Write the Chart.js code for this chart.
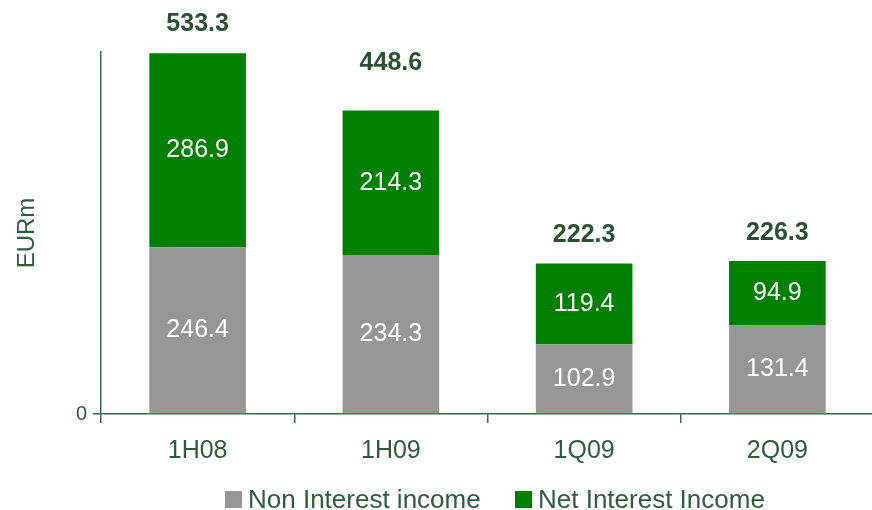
<!DOCTYPE html>
<html>
<head>
<meta charset="utf-8">
<title>Revenues</title>
<script src="https://cdn.jsdelivr.net/npm/chart.js@4.4.1/dist/chart.umd.min.js"></script>
<style>
    html, body { margin: 0; padding: 0; background: #ffffff; overflow: hidden; }
    #wrap { position: relative; width: 872px; height: 510px; overflow: hidden; }
    #revenueChart { position: absolute; left: 0; top: 0; }
    .legend-item {
        position: absolute;
        top: 484px;
        font: 26px 'Liberation Sans', Arial, sans-serif;
        line-height: 30px;
        color: #2e5b3c;
        white-space: nowrap;
    }
    .legend-item .swatch {
        display: inline-block;
        width: 17px;
        height: 17px;
        margin-right: 6px;
        vertical-align: baseline;
    }
</style>
</head>
<body>
<div id="wrap">
    <canvas id="revenueChart" width="874" height="510"></canvas>
    <div id="legend"></div>
</div>
<script>
// Periods and income split (EUR m)
const periods = ['1H08', '1H09', '1Q09', '2Q09'];
const nonInterestIncome = [246.4, 234.3, 102.9, 131.4];
const netInterestIncome = [286.9, 214.3, 119.4, 94.9];
const seriesNames = ['Non Interest income', 'Net Interest Income'];

// How far above each stack its total is written (px)
const totalLift = [29, 47, 28, 28];
const legendLeft = [225, 515];

const FONT = "'Liberation Sans', Arial, sans-serif";
const AXIS_COLOR = '#3a6848';
const TEXT_COLOR = '#2e5b3c';
const TOTAL_COLOR = '#2b5036';
const GREY = '#969696';
const GREEN = '#008000';

// Segment values inside the bars and stack totals on top
const valueLabels = {
    id: 'valueLabels',
    afterDatasetsDraw(chart) {
        const ctx = chart.ctx;
        ctx.save();
        ctx.textAlign = 'center';
        ctx.textBaseline = 'middle';
        ctx.font = '25px ' + FONT;
        ctx.fillStyle = '#ffffff';
        chart.data.datasets.forEach((ds, di) => {
            chart.getDatasetMeta(di).data.forEach((bar, i) => {
                ctx.fillText(ds.data[i].toFixed(1), bar.x, (bar.y + bar.base) / 2);
            });
        });

        const topBars = chart.getDatasetMeta(chart.data.datasets.length - 1).data;
        ctx.font = 'bold 25px ' + FONT;
        ctx.fillStyle = TOTAL_COLOR;
        topBars.forEach((bar, i) => {
            const total = nonInterestIncome[i] + netInterestIncome[i];
            ctx.fillText(total.toFixed(1), bar.x, bar.y - totalLift[i]);
        });
        ctx.restore();
    }
};

const ctx = document.getElementById('revenueChart').getContext('2d');
const revenueChart = new Chart(ctx, {
    type: 'bar',
    data: {
        labels: periods,
        datasets: [{
            label: seriesNames[0],
            data: nonInterestIncome,
            backgroundColor: GREY,
            borderWidth: 0
        }, {
            label: seriesNames[1],
            data: netInterestIncome,
            backgroundColor: GREEN,
            borderWidth: 0
        }]
    },
    options: {
        responsive: false,
        animation: false,
        devicePixelRatio: 1,
        categoryPercentage: 1,
        barPercentage: 0.5,
        layout: {
            padding: { top: 52, left: 0, right: 0, bottom: 31 }
        },
        scales: {
            x: {
                stacked: true,
                grid: {
                    drawOnChartArea: false,
                    drawTicks: true,
                    tickLength: 9,
                    color: AXIS_COLOR,
                    lineWidth: 1.5
                },
                border: { color: AXIS_COLOR, width: 1.5 },
                ticks: {
                    color: TEXT_COLOR,
                    padding: 13,
                    font: { family: FONT, size: 25 }
                }
            },
            y: {
                stacked: true,
                min: 0,
                max: 535,
                afterBuildTicks: (scale) => { scale.ticks = [{ value: 0 }]; },
                afterFit: (scale) => { scale.width = 101; },
                grid: {
                    drawOnChartArea: false,
                    drawTicks: true,
                    tickLength: 8,
                    color: AXIS_COLOR,
                    lineWidth: 1.5
                },
                border: { color: AXIS_COLOR, width: 1.5 },
                ticks: {
                    color: TEXT_COLOR,
                    padding: 6,
                    font: { family: FONT, size: 20 }
                },
                title: {
                    display: true,
                    text: 'EURm',
                    color: TEXT_COLOR,
                    padding: { top: 13, bottom: 0 },
                    font: { family: FONT, size: 24 }
                }
            }
        },
        plugins: {
            legend: { display: false },
            tooltip: { enabled: false }
        }
    },
    plugins: [valueLabels]
});

// Legend built from the chart's own datasets
const legendEl = document.getElementById('legend');
revenueChart.data.datasets.forEach((ds, i) => {
    const item = document.createElement('div');
    item.className = 'legend-item';
    item.style.left = legendLeft[i] + 'px';
    const swatch = document.createElement('span');
    swatch.className = 'swatch';
    swatch.style.background = ds.backgroundColor;
    item.appendChild(swatch);
    item.appendChild(document.createTextNode(ds.label));
    legendEl.appendChild(item);
});
</script>
</body>
</html>
